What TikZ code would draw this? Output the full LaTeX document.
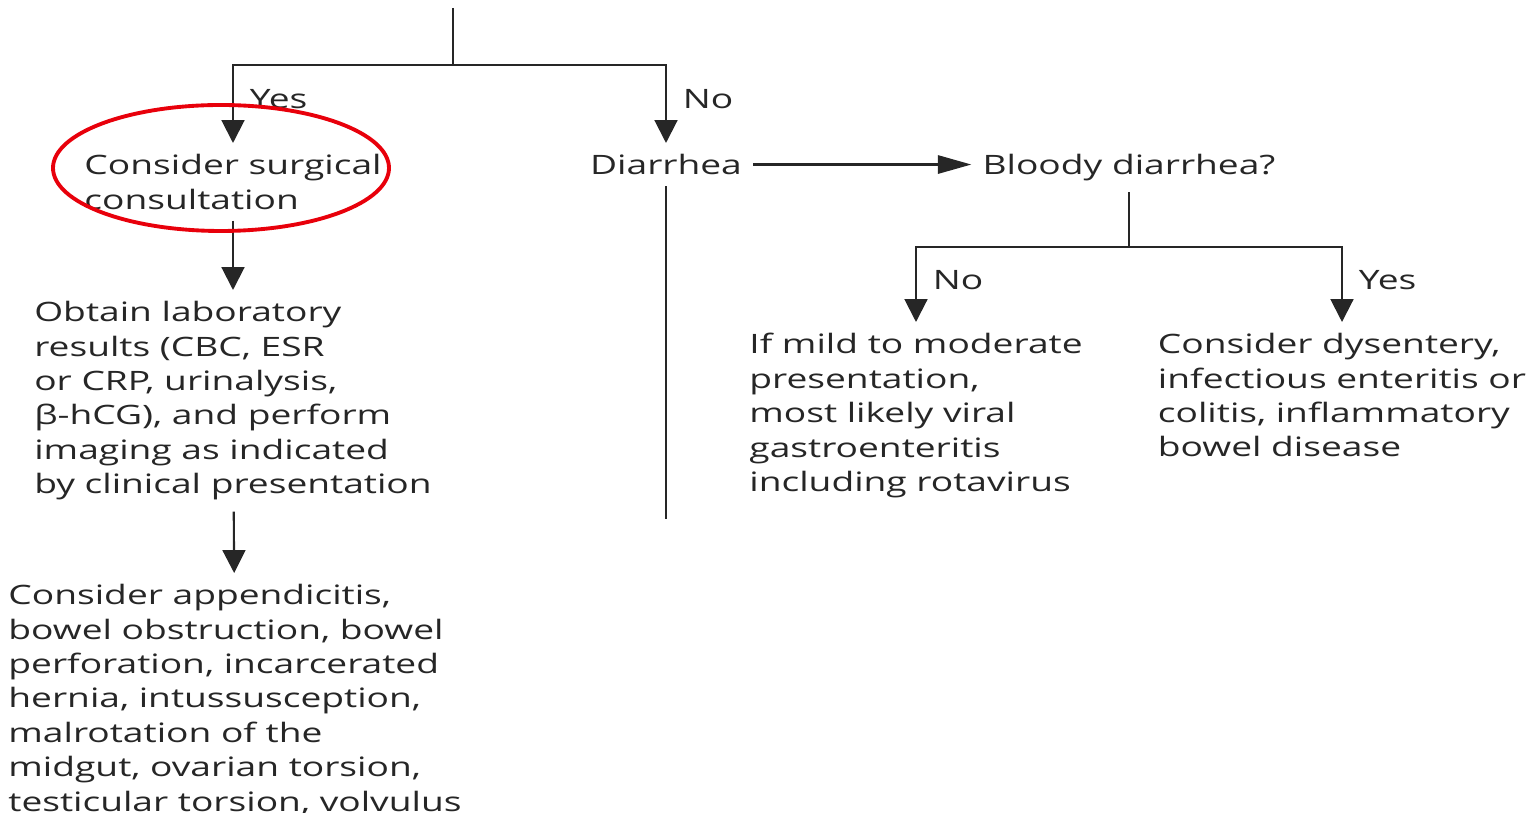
\documentclass[tikz,border=0pt]{standalone}
\usepackage{fontspec}
\setmainfont[FakeStretch=1.39]{Open Sans}
\usetikzlibrary{arrows.meta}

\definecolor{ink}{HTML}{262626}
\definecolor{ringred}{HTML}{E8000B}

\def\fs{7.6}
\def\bs{9.8}

\tikzset{
 txt/.style={align=left, inner sep=3pt, font=\fontsize{\fs}{\bs}\selectfont, text=ink},
 lbl/.style={anchor=west, inner sep=4.5pt, font=\fontsize{\fs}{\bs}\selectfont, text=ink},
 line/.style={draw=ink, line width=0.6pt},
 down/.style={line, -{Triangle[width=6.5pt,length=6.5pt]}},
 across/.style={line, -{Triangle[width=5.2pt,length=9.5pt]}},
 ring/.style={draw=ringred, line width=1.1pt}
}

\begin{document}
\begin{tikzpicture}[x=0.01cm,y=-0.01cm]
 \useasboundingbox (0,0) rectangle (1533,813);

 \coordinate (start) at (453,8);
 \coordinate (split) at (453,65);

 % linker Zweig
 \node[txt, anchor=north] (surg) at (233,143) {Consider surgical\\consultation};
 \node[txt, anchor=north] (lab) at (233,290) {Obtain laboratory\\results (CBC, ESR\\or CRP, urinalysis,\\β-hCG), and perform\\imaging as indicated\\by clinical presentation};
 \node[txt, anchor=north] (appx) at (235,573) {Consider appendicitis,\\bowel obstruction, bowel\\perforation, incarcerated\\hernia, intussusception,\\malrotation of the\\midgut, ovarian torsion,\\testicular torsion, volvulus};

 % rechter Zweig
 \node[txt, anchor=north] (diar) at (666,143) {Diarrhea};
 \node[txt, anchor=north] (bloody) at (1129,143) {Bloody diarrhea?};
 \node[txt, anchor=north] (viral) at (916,322) {If mild to moderate\\presentation,\\most likely viral\\gastroenteritis\\including rotavirus};
 \node[txt, anchor=north] (dys) at (1342,322) {Consider dysentery,\\infectious enteritis or\\colitis, inflammatory\\bowel disease};

 \draw[line] (start) -- (split);
 \draw[down] (split) -| node[lbl, pos=0.72] (yesA) {Yes} (surg.north);
 \draw[down] (split) -| node[lbl, pos=0.72] (noA) {No} (diar.north);

 \draw[down] (surg) -- (lab);
 \draw[down] (lab) -- (appx);

 \draw[across] (diar.east) -- (diar.east -| bloody.west);
 \path (diar.south) ++(0,333) coordinate (dend);
 \draw[line] (diar.south) -- (dend);

 \path (bloody.south) ++(0,55) coordinate (splitB);
 \draw[line] (bloody.south) -- (splitB);
 \draw[down] (splitB) -| node[lbl, pos=0.72] (noB) {No} (viral.north);
 \draw[down] (splitB) -| node[lbl, pos=0.72] (yesB) {Yes} (dys.north);

 \draw[ring] (221,168) ellipse (168 and 63);
\end{tikzpicture}
\end{document}
